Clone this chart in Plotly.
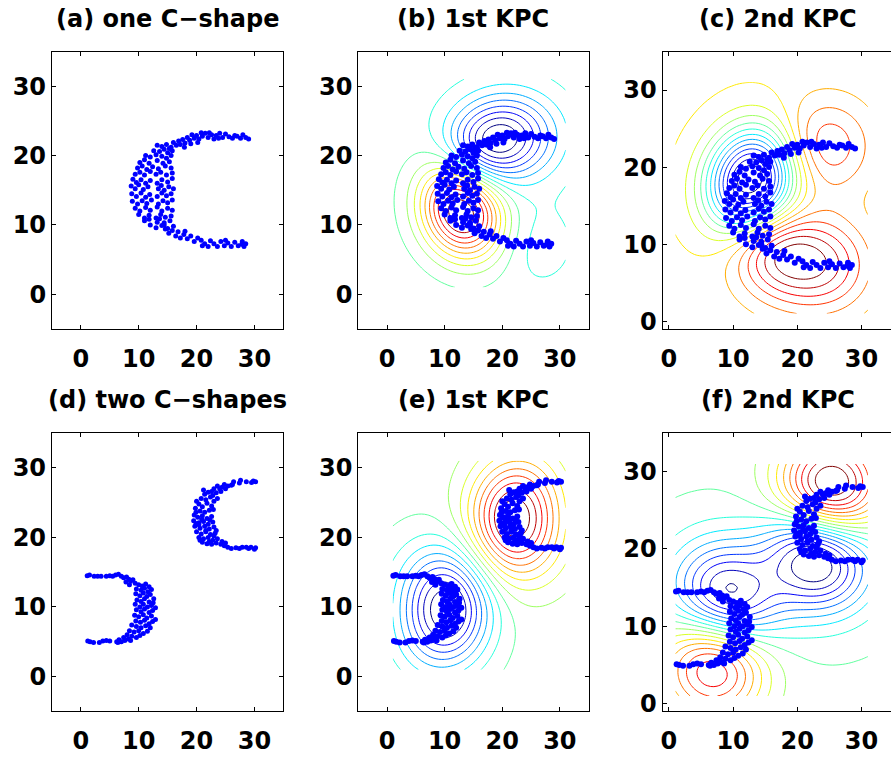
import numpy as np
import plotly.graph_objects as go

# ---------------- data: one C-shape (opening to the right) ----------------
ONE_C_UPPER_ARM = [
    (29.0, 22.4), (28.5, 22.6), (28.0, 23.0), (27.6, 22.5), (27.0, 22.8), (26.2, 22.5),
    (25.6, 22.7), (25.0, 23.1), (24.5, 22.6), (24.0, 23.2), (23.4, 22.9), (23.0, 22.4),
    (22.6, 23.0), (22.0, 22.6), (21.5, 23.2), (21.0, 22.8), (20.8, 23.3), (20.4, 22.4),
    (20.0, 22.9), (19.6, 22.5), (19.2, 23.0), (18.8, 22.2), (18.4, 22.6), (18.0, 21.8),
    (17.6, 22.3), (17.2, 21.6), (16.9, 22.1), (16.5, 21.5), (16.0, 21.9), (15.6, 21.2),
    (22.2, 23.3), (23.8, 22.5), (26.6, 22.9), (20.2, 21.9), (19.0, 21.7), (17.9, 21.2),
]
ONE_C_LOWER_ARM = [
    (28.5, 7.3), (28.2, 6.9), (27.8, 7.2), (27.2, 7.0), (26.6, 7.5), (26.0, 6.9),
    (25.4, 7.4), (24.8, 7.0), (24.2, 7.6), (23.6, 6.9), (23.0, 7.3), (22.4, 7.7),
    (22.0, 6.9), (21.4, 7.3), (20.8, 7.8), (20.2, 8.1), (19.6, 7.6), (19.0, 8.4),
    (18.4, 8.0), (17.8, 8.6), (17.2, 8.1), (16.8, 9.0), (16.4, 8.4), (15.8, 9.2),
    (15.2, 8.8), (14.6, 9.4), (21.0, 7.0), (25.0, 7.8), (27.9, 7.6), (18.0, 9.1),
    (16.0, 9.8), (14.4, 10.0),
]
ONE_C_BACK = [
    (13.2, 21.5), (14.0, 21.3), (14.8, 21.6), (15.3, 21.0),
    (12.6, 20.7), (13.6, 20.6), (14.4, 20.9), (15.0, 20.4), (15.8, 20.7),
    (11.2, 20.0), (12.0, 19.8), (13.0, 20.1), (14.0, 19.9), (14.8, 19.6), (15.6, 20.0),
    (10.2, 19.0), (11.0, 19.4), (11.8, 18.9), (13.2, 19.3), (14.2, 18.9), (15.3, 19.1),
    (9.8, 18.2), (10.6, 18.5), (11.4, 18.0), (12.4, 18.4), (13.4, 18.1), (14.6, 18.5), (15.6, 18.2),
    (9.4, 17.3), (10.2, 17.6), (11.0, 17.2), (12.0, 17.7), (13.0, 17.3), (13.8, 17.6), (14.8, 17.2), (15.8, 17.5),
    (9.0, 16.6), (9.6, 16.1), (10.4, 16.5), (11.2, 16.0), (12.0, 16.4), (13.2, 16.0), (14.0, 16.5), (15.0, 16.2), (15.8, 16.7),
    (8.7, 15.6), (9.4, 15.2), (10.0, 15.8), (10.8, 15.1), (11.6, 15.5), (13.4, 15.2), (13.9, 15.7), (14.4, 15.0), (15.2, 15.5), (16.0, 15.2),
    (8.8, 14.5), (9.6, 14.1), (10.4, 14.6), (11.2, 14.0), (11.9, 14.4), (13.2, 14.1), (14.0, 14.6), (14.8, 14.2), (15.6, 14.5),
    (8.9, 13.4), (9.8, 13.0), (10.6, 13.5), (11.4, 13.1), (12.2, 13.6), (13.4, 13.0), (14.2, 13.5), (15.0, 13.2), (15.8, 13.6),
    (9.4, 12.4), (10.2, 12.0), (11.2, 12.5), (12.0, 12.1), (13.2, 12.6), (14.0, 12.0), (15.0, 12.4), (15.8, 12.1),
    (10.0, 11.5), (11.0, 11.0), (11.8, 11.4), (13.0, 11.0), (13.8, 11.5), (14.6, 11.1), (15.6, 11.3),
    (11.0, 10.6), (11.8, 10.8), (13.2, 10.4), (13.6, 10.9), (14.4, 10.3), (15.4, 10.6),
    (12.0, 10.0), (13.0, 9.6), (14.0, 9.9), (15.0, 9.5),
]

# ---------------- data: two C-shapes ----------------
LEFT_C_UPPER_ARM = [
    (1.1, 14.5), (1.5, 14.6), (2.3, 14.4), (2.9, 14.4), (3.5, 14.4), (4.4, 14.4),
    (5.0, 14.5), (5.5, 14.4), (6.0, 14.6), (6.5, 14.7), (7.0, 14.4), (7.4, 14.2),
    (7.9, 14.3), (8.3, 14.0), (8.6, 13.7), (7.8, 13.6), (8.4, 13.2), (9.0, 13.9), (9.4, 13.4),
]
LEFT_C_BACK = [
    (10.0, 13.2), (10.6, 13.0), (11.2, 13.3), (11.8, 12.9), (9.6, 12.6), (10.4, 12.4),
    (11.0, 12.7), (11.6, 12.2), (12.2, 12.5), (9.5, 11.9), (10.2, 11.6), (10.8, 12.0),
    (11.4, 11.5), (12.0, 11.8), (12.6, 11.2), (9.7, 11.0), (10.4, 10.8), (11.0, 11.2),
    (11.8, 10.7), (12.5, 10.6), (9.4, 10.4), (10.2, 10.0), (10.8, 10.4), (11.5, 10.0),
    (12.2, 10.2), (12.9, 9.9), (9.6, 9.6), (10.4, 9.3), (11.0, 9.7), (11.8, 9.2),
    (12.4, 9.5), (9.3, 8.8), (10.0, 8.6), (10.8, 8.9), (11.4, 8.4), (12.2, 8.7),
    (12.9, 8.2), (9.5, 8.0), (10.3, 7.8), (11.0, 8.1), (11.8, 7.6), (12.4, 7.9),
    (8.8, 7.4), (9.6, 7.2), (10.4, 7.0), (11.2, 7.3), (12.0, 7.0), (8.4, 6.6),
    (9.2, 6.4), (10.0, 6.6), (10.8, 6.2), (11.5, 6.5), (8.0, 6.0), (8.8, 5.8),
    (9.6, 5.6), (10.2, 5.9), (7.4, 5.6), (8.2, 5.4),
]
LEFT_C_LOWER_ARM = [
    (1.2, 5.1), (1.6, 5.0), (2.2, 4.9), (3.2, 4.9), (3.8, 5.1), (4.4, 5.2), (5.0, 5.1),
    (6.2, 5.0), (6.6, 5.3), (7.0, 5.0), (6.4, 4.9), (7.6, 5.2), (8.6, 5.2),
]
RIGHT_C_UPPER_ARM = [
    (30.2, 28.0), (29.8, 28.1), (29.5, 27.9), (28.6, 28.0), (27.6, 28.2), (27.4, 27.8),
    (26.4, 28.0), (26.0, 27.5), (25.4, 27.4), (26.2, 27.6), (25.0, 27.0), (24.8, 27.6),
    (24.4, 27.2), (24.0, 27.0), (23.6, 27.4), (23.0, 27.0), (22.6, 26.6), (23.4, 26.4),
    (24.2, 26.6),
]
RIGHT_C_BACK = [
    (21.4, 26.2), (22.0, 26.5), (22.8, 26.0), (20.8, 25.6), (21.6, 25.4), (22.4, 25.8),
    (23.0, 25.2), (20.4, 24.8), (21.0, 24.4), (21.8, 24.9), (22.6, 24.5), (19.8, 24.2),
    (20.6, 23.8), (21.4, 23.6), (22.2, 23.9), (19.6, 23.2), (20.2, 22.9), (21.0, 23.1),
    (21.8, 22.7), (22.6, 23.0), (19.5, 22.4), (20.4, 22.1), (21.2, 22.3), (22.0, 21.9),
    (22.8, 22.2), (19.7, 21.6), (20.6, 21.3), (21.4, 21.6), (22.2, 21.2), (23.0, 21.5),
    (20.0, 20.8), (20.8, 20.5), (21.6, 20.8), (22.4, 20.4), (23.2, 20.6), (20.4, 20.0),
    (21.2, 19.8), (22.0, 20.0), (22.8, 19.6), (23.6, 19.8), (21.0, 19.3), (21.8, 19.1),
    (22.6, 19.0), (23.4, 19.2), (24.2, 19.0),
    (20.0, 25.2), (21.2, 26.8), (23.6, 25.6), (19.9, 23.6), (22.9, 24.0), (20.9, 22.6),
    (22.3, 22.5), (19.9, 22.0), (21.6, 21.0), (20.4, 21.8), (23.4, 21.0), (20.6, 19.6),
    (22.2, 19.4), (23.0, 20.2), (24.4, 19.4),
]
RIGHT_C_LOWER_ARM = [
    (24.8, 18.8), (25.4, 18.6), (26.0, 18.4), (26.8, 18.5), (27.4, 18.4), (27.9, 18.6),
    (28.6, 18.6), (29.0, 18.4), (29.4, 18.6), (30.0, 18.3), (30.2, 18.5), (25.0, 19.2),
]

PANEL_TITLES = ["(a) one C\u2212shape", "(b) 1st KPC", "(c) 2nd KPC",
                "(d) two C\u2212shapes", "(e) 1st KPC", "(f) 2nd KPC"]
TICKS = [0, 10, 20, 30]

# Gaussian kernel widths and evaluation grid for the kernel principal components
SIGMA_ONE = 4.2
SIGMA_TWO = 5.0
GRID = np.arange(1.0, 31.01, 0.5)
N_LEVELS = 18

# MATLAB-style jet colour map for the contour lines
JET = [[0.0, "#000080"], [0.125, "#0000ff"], [0.375, "#00ffff"],
       [0.625, "#ffff00"], [0.875, "#ff0000"], [1.0, "#800000"]]

one_c = np.array(ONE_C_UPPER_ARM + ONE_C_BACK + ONE_C_LOWER_ARM)
two_c = np.array(LEFT_C_UPPER_ARM + LEFT_C_BACK + LEFT_C_LOWER_ARM +
                 RIGHT_C_UPPER_ARM + RIGHT_C_BACK + RIGHT_C_LOWER_ARM)


def kernel(a, b, sigma):
    d2 = ((a[:, None, :] - b[None, :, :]) ** 2).sum(-1)
    return np.exp(-d2 / (2.0 * sigma ** 2))


def kpca_fields(pts, sigma, grid):
    """Project every grid node onto the first two kernel principal components."""
    n = len(pts)
    K = kernel(pts, pts, sigma)
    J = np.ones((n, n)) / n
    Kc = K - J @ K - K @ J + J @ K @ J
    w, V = np.linalg.eigh(Kc)
    order = np.argsort(w)[::-1][:2]
    alphas = V[:, order] / np.sqrt(w[order])
    gx, gy = np.meshgrid(grid, grid)
    Z = np.column_stack([gx.ravel(), gy.ravel()])
    Kz = kernel(Z, pts, sigma)
    Kzc = Kz - Kz.mean(1, keepdims=True) - K.mean(0)[None, :] + K.mean()
    proj = Kzc @ alphas
    return [proj[:, k].reshape(gx.shape) for k in range(2)]


def oriented(field, grid, anchor):
    """Flip the sign so that the field is positive near the anchor point."""
    i = int(np.argmin(np.abs(grid - anchor[1])))
    j = int(np.argmin(np.abs(grid - anchor[0])))
    return field if field[i, j] > 0 else -field


kpc_one = kpca_fields(one_c, SIGMA_ONE, GRID)
kpc_two = kpca_fields(two_c, SIGMA_TWO, GRID)
fields = {
    2: oriented(kpc_one[0], GRID, (13, 12)),
    3: oriented(kpc_one[1], GRID, (25, 23)),
    5: oriented(kpc_two[0], GRID, (22.5, 23)),
    6: oriented(kpc_two[1], GRID, (6, 3)),
}
points = {1: one_c, 2: one_c, 3: one_c, 4: two_c, 5: two_c, 6: two_c}

fig = go.Figure()
W, H = 891, 760
# axes boxes in pixels: left, right, top, bottom
boxes = {
    1: (50, 282, 52, 332), 2: (357, 588, 52, 332), 3: (662, 891, 52, 332),
    4: (50, 282, 437, 718), 5: (357, 588, 437, 718), 6: (662, 891, 437, 718),
}
ranges = {1: ([-5, 35], [-5, 35]), 2: ([-5, 35], [-5, 35]), 3: ([-1, 34.6], [-1, 35]),
          4: ([-5, 35], [-5, 35]), 5: ([-5, 35], [-5, 35]), 6: ([-1, 34.6], [-1, 35])}

FONT = dict(family="DejaVu Sans", size=24, color="black")
TICKTEXT = [f"<b>{v}</b>" for v in TICKS]

for k in range(1, 7):
    xa = "x" if k == 1 else f"x{k}"
    ya = "y" if k == 1 else f"y{k}"
    if k in fields:
        z = fields[k]
        zmin, zmax = float(z.min()), float(z.max())
        step = (zmax - zmin) / (N_LEVELS + 1)
        fig.add_trace(go.Contour(
            x=GRID, y=GRID, z=z, xaxis=xa, yaxis=ya,
            colorscale=JET, zmin=zmin, zmax=zmax, showscale=False,
            contours=dict(coloring="lines", start=zmin + step, end=zmax - step * 0.5, size=step),
            line=dict(width=1), hoverinfo="skip",
        ))
    pts = points[k]
    fig.add_trace(go.Scatter(
        x=pts[:, 0], y=pts[:, 1], mode="markers", xaxis=xa, yaxis=ya,
        marker=dict(color="#0000ff", size=5 if k in (1, 4) else 6, line=dict(width=0)),
        showlegend=False, hoverinfo="skip",
    ))
    l, r, t, b = boxes[k]
    xr, yr = ranges[k]
    cut = k in (3, 6)
    axis_common = dict(
        showgrid=False, zeroline=False, showline=True, linecolor="black", linewidth=1,
        ticks="inside", ticklen=4, tickcolor="black", tickvals=TICKS, ticktext=TICKTEXT,
        tickfont=FONT,
    )
    fig.layout[("xaxis" if k == 1 else f"xaxis{k}")] = dict(
        domain=[l / W, r / W], range=xr, anchor=ya, mirror="ticks",
        ticklabelstandoff=8, **axis_common)
    fig.layout[("yaxis" if k == 1 else f"yaxis{k}")] = dict(
        domain=[1 - b / H, 1 - t / H], range=yr, anchor=xa,
        mirror=False if cut else "ticks", ticklabelstandoff=0, **axis_common)
    cx = (l + r) / 2 if not cut else l + 232 / 2
    fig.add_annotation(
        text=f"<b>{PANEL_TITLES[k - 1]}</b>", xref="paper", yref="paper",
        x=cx / W, y=1 - (t - 33) / H, xanchor="center", yanchor="middle",
        showarrow=False, font=FONT,
    )

fig.update_layout(
    width=W, height=H, margin=dict(l=0, r=0, t=0, b=0),
    paper_bgcolor="white", plot_bgcolor="white", showlegend=False,
)

fig.write_html("out.html")
